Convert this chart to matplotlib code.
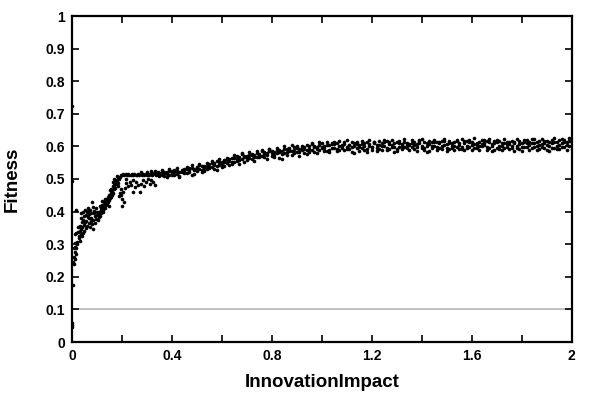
import matplotlib
matplotlib.use("Agg")
import matplotlib.pyplot as plt
from matplotlib.ticker import MultipleLocator, FormatStrFormatter

plt.rcParams["font.family"] = ["Liberation Sans", "DejaVu Sans"]

# isolated points sitting on the y axis
edge_x = [0.000, 0.000, 0.001, 0.001, 0.001, 0.004, 0.017]
edge_y = [0.725, 0.495, 0.045, 0.052, 0.058, 0.174, 0.405]

# rising part, 0 .. 0.2
rise_x = [0.006, 0.008, 0.010, 0.011, 0.013, 0.015, 0.009, 0.014, 0.018, 0.012,
          0.019, 0.014, 0.018, 0.025, 0.028, 0.033, 0.030, 0.038, 0.041, 0.044,
          0.036, 0.032, 0.040, 0.035, 0.045, 0.050, 0.055, 0.048, 0.060, 0.058,
          0.065, 0.070, 0.062, 0.068, 0.075, 0.072, 0.080, 0.078, 0.085, 0.082,
          0.086, 0.090, 0.094, 0.098, 0.100, 0.104, 0.106, 0.110, 0.112, 0.115,
          0.118, 0.120, 0.123, 0.126, 0.128, 0.131, 0.134, 0.137, 0.140, 0.142,
          0.145, 0.147, 0.150, 0.152, 0.155, 0.158, 0.160, 0.163, 0.166, 0.168,
          0.170, 0.173, 0.176, 0.180, 0.183, 0.186, 0.190, 0.193, 0.196, 0.199,
          0.044, 0.052, 0.066,
          0.022, 0.026, 0.031, 0.037, 0.042, 0.047, 0.053, 0.057, 0.063, 0.067,
          0.071, 0.076, 0.083, 0.088, 0.092, 0.096, 0.102, 0.108, 0.113, 0.117,
          0.121, 0.125, 0.129, 0.133, 0.136, 0.139, 0.143, 0.146, 0.149, 0.153,
          0.156, 0.159, 0.162, 0.165, 0.169, 0.172, 0.175, 0.178, 0.182, 0.185,
          0.188, 0.192, 0.195]
rise_y = [0.245, 0.262, 0.240, 0.254, 0.275, 0.270, 0.287, 0.290, 0.288, 0.305,
          0.306, 0.331, 0.334, 0.336, 0.318, 0.341, 0.326, 0.330, 0.326, 0.333,
          0.346, 0.357, 0.368, 0.379, 0.375, 0.385, 0.390, 0.360, 0.398, 0.372,
          0.383, 0.392, 0.355, 0.365, 0.372, 0.352, 0.362, 0.380, 0.346, 0.428,
          0.414, 0.395, 0.385, 0.378, 0.389, 0.373, 0.393, 0.398, 0.385, 0.404,
          0.412, 0.420, 0.405, 0.416, 0.429, 0.424, 0.411, 0.433, 0.440, 0.425,
          0.437, 0.418, 0.450, 0.442, 0.458, 0.470, 0.455, 0.478, 0.490, 0.468,
          0.500, 0.485, 0.495, 0.510, 0.477, 0.505, 0.447, 0.458, 0.470, 0.440,
          0.398, 0.404, 0.401,
          0.300, 0.352, 0.310, 0.395, 0.352, 0.340, 0.368, 0.350, 0.412, 0.380,
          0.405, 0.395, 0.375, 0.402, 0.365, 0.410, 0.400, 0.382, 0.418, 0.395,
          0.432, 0.400, 0.412, 0.438, 0.420, 0.428, 0.445, 0.430, 0.435, 0.465,
          0.445, 0.452, 0.465, 0.458, 0.482, 0.472, 0.485, 0.498, 0.492, 0.488,
          0.500, 0.505, 0.512]

# flat upper branch, 0.2 .. 0.35
flat_x = [0.200, 0.205, 0.210, 0.215, 0.220, 0.225, 0.230, 0.235, 0.240, 0.245,
          0.250, 0.255, 0.260, 0.265, 0.270, 0.275, 0.280, 0.285, 0.290, 0.295,
          0.300, 0.305, 0.310, 0.315, 0.320, 0.325, 0.330, 0.335, 0.340, 0.345,
          0.302, 0.318, 0.333, 0.343]
flat_y = [0.512, 0.516, 0.511, 0.514, 0.512, 0.515, 0.513, 0.511, 0.514, 0.512,
          0.516, 0.513, 0.511, 0.514, 0.512, 0.521, 0.513, 0.515, 0.512, 0.514,
          0.511, 0.516, 0.513, 0.518, 0.512, 0.515, 0.519, 0.513, 0.517, 0.521,
          0.522, 0.524, 0.526, 0.511]

# scattered lower branch, 0.2 .. 0.33
low_x = [0.204, 0.198, 0.211, 0.218, 0.231, 0.244, 0.238, 0.258, 0.264, 0.278,
         0.284, 0.298, 0.304, 0.318, 0.324, 0.331, 0.271, 0.244, 0.226, 0.252,
         0.290, 0.312, 0.215, 0.207, 0.202]
low_y = [0.460, 0.450, 0.471, 0.501, 0.491, 0.496, 0.482, 0.491, 0.481, 0.486,
         0.496, 0.491, 0.501, 0.496, 0.491, 0.481, 0.460, 0.460, 0.478, 0.476,
         0.478, 0.486, 0.488, 0.430, 0.418]

# main band, 0.35 .. 2.0, three runs per impact value
band_x = [0.35, 0.36, 0.37, 0.38, 0.39, 0.40, 0.41, 0.42, 0.43, 0.44,
          0.45, 0.46, 0.47, 0.48, 0.49, 0.50, 0.51, 0.52, 0.53, 0.54,
          0.55, 0.56, 0.57, 0.58, 0.59, 0.60, 0.61, 0.62, 0.63, 0.64,
          0.65, 0.66, 0.67, 0.68, 0.69, 0.70, 0.71, 0.72, 0.73, 0.74,
          0.75, 0.76, 0.77, 0.78, 0.79, 0.80, 0.81, 0.82, 0.83, 0.84,
          0.85, 0.86, 0.87, 0.88, 0.89, 0.90, 0.91, 0.92, 0.93, 0.94,
          0.95, 0.96, 0.97, 0.98, 0.99, 1.00, 1.01, 1.02, 1.03, 1.04,
          1.05, 1.06, 1.07, 1.08, 1.09, 1.10, 1.11, 1.12, 1.13, 1.14,
          1.15, 1.16, 1.17, 1.18, 1.19, 1.20, 1.21, 1.22, 1.23, 1.24,
          1.25, 1.26, 1.27, 1.28, 1.29, 1.30, 1.31, 1.32, 1.33, 1.34,
          1.35, 1.36, 1.37, 1.38, 1.39, 1.40, 1.41, 1.42, 1.43, 1.44,
          1.45, 1.46, 1.47, 1.48, 1.49, 1.50, 1.51, 1.52, 1.53, 1.54,
          1.55, 1.56, 1.57, 1.58, 1.59, 1.60, 1.61, 1.62, 1.63, 1.64,
          1.65, 1.66, 1.67, 1.68, 1.69, 1.70, 1.71, 1.72, 1.73, 1.74,
          1.75, 1.76, 1.77, 1.78, 1.79, 1.80, 1.81, 1.82, 1.83, 1.84,
          1.85, 1.86, 1.87, 1.88, 1.89, 1.90, 1.91, 1.92, 1.93, 1.94,
          1.95, 1.96, 1.97, 1.98, 1.99, 2.00]
band_y_a = [0.519, 0.512, 0.521, 0.516, 0.524, 0.518, 0.527, 0.515, 0.523, 0.529,
            0.524, 0.531, 0.522, 0.535, 0.528, 0.537, 0.530, 0.541, 0.526, 0.539,
            0.545, 0.536, 0.549, 0.541, 0.552, 0.546, 0.557, 0.549, 0.561, 0.553,
            0.565, 0.556, 0.569, 0.561, 0.572, 0.564, 0.574, 0.560, 0.575, 0.569,
            0.578, 0.570, 0.583, 0.575, 0.586, 0.571, 0.584, 0.579, 0.589, 0.577,
            0.591, 0.582, 0.594, 0.586, 0.597, 0.583, 0.593, 0.588, 0.599, 0.590,
            0.601, 0.589, 0.598, 0.592, 0.604, 0.595, 0.600, 0.587, 0.603, 0.594,
            0.606, 0.593, 0.601, 0.596, 0.608, 0.591, 0.603, 0.598, 0.610, 0.594,
            0.604, 0.596, 0.611, 0.593, 0.606, 0.599, 0.612, 0.594, 0.605, 0.601,
            0.613, 0.595, 0.607, 0.598, 0.611, 0.592, 0.609, 0.600, 0.614, 0.596,
            0.608, 0.597, 0.615, 0.599, 0.610, 0.594, 0.612, 0.601, 0.607, 0.596,
            0.614, 0.598, 0.609, 0.602, 0.616, 0.595, 0.611, 0.600, 0.613, 0.597,
            0.610, 0.599, 0.617, 0.596, 0.612, 0.603, 0.608, 0.594, 0.615, 0.601,
            0.611, 0.597, 0.614, 0.600, 0.609, 0.595, 0.616, 0.602, 0.610, 0.598,
            0.613, 0.596, 0.609, 0.601, 0.617, 0.597, 0.612, 0.599, 0.614, 0.594,
            0.610, 0.600, 0.618, 0.597, 0.611, 0.603, 0.615, 0.596, 0.612, 0.601,
            0.619, 0.598, 0.612, 0.604, 0.616, 0.600]
band_y_b = [0.514, 0.522, 0.509, 0.520, 0.513, 0.526, 0.511, 0.524, 0.506, 0.521,
            0.530, 0.519, 0.534, 0.512, 0.532, 0.524, 0.543, 0.527, 0.535, 0.530,
            0.538, 0.550, 0.531, 0.555, 0.544, 0.538, 0.551, 0.559, 0.544, 0.563,
            0.551, 0.571, 0.558, 0.576, 0.553, 0.570, 0.563, 0.578, 0.567, 0.581,
            0.572, 0.586, 0.566, 0.580, 0.592, 0.581, 0.574, 0.590, 0.565, 0.585,
            0.579, 0.593, 0.587, 0.574, 0.590, 0.600, 0.584, 0.596, 0.581, 0.603,
            0.592, 0.606, 0.584, 0.597, 0.589, 0.609, 0.596, 0.605, 0.590, 0.611,
            0.595, 0.609, 0.588, 0.602, 0.614, 0.597, 0.605, 0.583, 0.600, 0.613,
            0.598, 0.608, 0.590, 0.615, 0.600, 0.589, 0.609, 0.603, 0.592, 0.611,
            0.601, 0.616, 0.593, 0.604, 0.584, 0.612, 0.597, 0.606, 0.599, 0.610,
            0.603, 0.611, 0.592, 0.606, 0.619, 0.600, 0.596, 0.609, 0.585, 0.613,
            0.600, 0.612, 0.596, 0.618, 0.603, 0.607, 0.593, 0.610, 0.602, 0.616,
            0.604, 0.592, 0.609, 0.601, 0.598, 0.614, 0.596, 0.611, 0.600, 0.607,
            0.603, 0.617, 0.596, 0.607, 0.588, 0.612, 0.600, 0.609, 0.594, 0.613,
            0.606, 0.601, 0.615, 0.595, 0.608, 0.611, 0.598, 0.620, 0.603, 0.609,
            0.597, 0.613, 0.604, 0.608, 0.594, 0.617, 0.601, 0.609, 0.596, 0.614,
            0.605, 0.611, 0.597, 0.615, 0.602, 0.609]
band_y_c = [0.508, 0.527, 0.517, 0.505, 0.530, 0.513, 0.520, 0.533, 0.510, 0.526,
            0.518, 0.537, 0.528, 0.543, 0.515, 0.533, 0.546, 0.523, 0.540, 0.548,
            0.533, 0.556, 0.543, 0.527, 0.560, 0.551, 0.540, 0.565, 0.555, 0.546,
            0.574, 0.562, 0.547, 0.580, 0.568, 0.557, 0.583, 0.573, 0.556, 0.586,
            0.568, 0.590, 0.578, 0.560, 0.593, 0.587, 0.569, 0.596, 0.583, 0.561,
            0.600, 0.575, 0.592, 0.605, 0.579, 0.595, 0.570, 0.602, 0.593, 0.578,
            0.583, 0.610, 0.601, 0.580, 0.613, 0.599, 0.586, 0.615, 0.582, 0.606,
            0.612, 0.586, 0.617, 0.604, 0.589, 0.619, 0.592, 0.612, 0.580, 0.606,
            0.587, 0.617, 0.602, 0.584, 0.620, 0.597, 0.613, 0.586, 0.618, 0.590,
            0.619, 0.588, 0.612, 0.621, 0.597, 0.586, 0.617, 0.591, 0.622, 0.604,
            0.590, 0.620, 0.605, 0.587, 0.616, 0.622, 0.590, 0.583, 0.618, 0.600,
            0.621, 0.589, 0.614, 0.591, 0.623, 0.586, 0.618, 0.594, 0.588, 0.620,
            0.592, 0.623, 0.588, 0.616, 0.620, 0.590, 0.625, 0.603, 0.589, 0.619,
            0.620, 0.590, 0.622, 0.586, 0.617, 0.621, 0.593, 0.589, 0.624, 0.606,
            0.591, 0.618, 0.587, 0.623, 0.592, 0.585, 0.621, 0.610, 0.590, 0.622,
            0.622, 0.589, 0.593, 0.624, 0.618, 0.590, 0.587, 0.621, 0.625, 0.592,
            0.591, 0.624, 0.620, 0.589, 0.626, 0.593]

baseline = 0.1

fig = plt.figure(figsize=(6, 4), dpi=100)
ax = fig.add_axes([0.12, 0.145, 0.833, 0.815])

ax.axhline(baseline, color="#bbbbbb", lw=1.3, zorder=1)

dot = dict(ls="none", marker="o", ms=2.6, color="black", mew=0, zorder=3)
ax.plot(edge_x, edge_y, **dot)
ax.plot(rise_x, rise_y, **dot)
ax.plot(flat_x, flat_y, **dot)
ax.plot(low_x, low_y, **dot)
ax.plot(band_x, band_y_a, **dot)
ax.plot(band_x, band_y_b, **dot)
ax.plot(band_x, band_y_c, **dot)

ax.set_xlim(0, 2)
ax.set_ylim(0, 1)
ax.xaxis.set_major_locator(MultipleLocator(0.4))
ax.xaxis.set_minor_locator(MultipleLocator(0.2))
ax.yaxis.set_major_locator(MultipleLocator(0.1))
ax.xaxis.set_major_formatter(FormatStrFormatter("%g"))
ax.yaxis.set_major_formatter(FormatStrFormatter("%g"))
ax.tick_params(which="both", direction="in", top=True, right=True,
               length=5, width=1.2, labelsize=10, pad=5)
for lbl in ax.get_xticklabels() + ax.get_yticklabels():
    lbl.set_fontweight("bold")
for sp in ax.spines.values():
    sp.set_linewidth(1.6)

label_font = dict(fontsize=13.5, fontweight="bold")
ax.set_xlabel("InnovationImpact", **label_font)
ax.set_ylabel("Fitness", **label_font)
ax.xaxis.set_label_coords(0.5, -0.125)
ax.yaxis.set_label_coords(-0.12, 0.5)
ax.xaxis.label.set_va("center")
ax.yaxis.label.set_va("center")

fig.savefig("out.png", dpi=100)
